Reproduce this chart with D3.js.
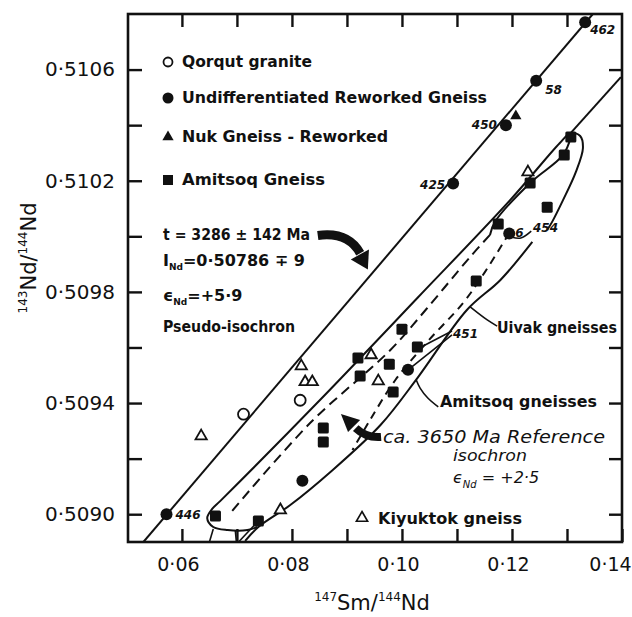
<!DOCTYPE html>
<html>
<head>
<meta charset="utf-8">
<script src="https://cdn.jsdelivr.net/npm/d3@7"></script>
<style>
  body { margin: 0; background: #fff; }
  svg text { font-family: "DejaVu Sans", sans-serif; fill: #111; }
</style>
</head>
<body>
<div id="graph"></div>
<script>
// ---- data ----
const xTicks = [0.06, 0.07, 0.08, 0.09, 0.10, 0.11, 0.12, 0.13];
const xLabels = [0.06, 0.08, 0.10, 0.12, 0.14];
const yTicks = [0.5090, 0.5092, 0.5094, 0.5096, 0.5098, 0.5100, 0.5102, 0.5104, 0.5106];
const yLabels = [0.5090, 0.5094, 0.5098, 0.5102, 0.5106];

// open circles
const qorqut = [[0.0712, 0.50936], [0.0815, 0.50941]];
// filled circles, with sample numbers
const undiff = [[0.0572, 0.50900], [0.1333, 0.51077], [0.1244, 0.51056], [0.1189, 0.51040],
                [0.1093, 0.51019], [0.1195, 0.51001], [0.1011, 0.50952], [0.0819, 0.50912]];
const undiffIds = ["446", "462", "58", "450", "425", "6", "", ""];
// filled triangle
const nuk = [[0.1207, 0.510433]];
// filled squares
const amitsoq = [[0.1307, 0.510357], [0.1295, 0.510293], [0.1233, 0.510192], [0.1264, 0.510105],
                 [0.1175, 0.510044], [0.1135, 0.509839], [0.1000, 0.509666], [0.1028, 0.509602],
                 [0.0920, 0.509562], [0.0977, 0.509540], [0.0924, 0.509497], [0.0984, 0.509440],
                 [0.0857, 0.509310], [0.0857, 0.509260], [0.0739, 0.508976], [0.0661, 0.508994]];
// open triangles
const kiyuktok = [[0.0635, 0.509281], [0.0817, 0.509533], [0.0824, 0.509476], [0.0837, 0.509476],
                  [0.0779, 0.509015], [0.0944, 0.509573], [0.0957, 0.509479], [0.1229, 0.510231]];

// lines and fields
const pseudoIso = [[0.0530, 0.5089], [0.1347, 0.5108]];
const refIso = [[0.1398, 0.510573], [0.1307, 0.510372]];
const uivakField = [[0.0737, 0.508954], [0.0719, 0.508943], [0.0683, 0.508943], [0.0657, 0.508954],
                    [0.0646, 0.508986], [0.0655, 0.509019], [0.0670, 0.509048], [0.0851, 0.509411],
                    [0.1028, 0.509778], [0.1197, 0.510131], [0.1287, 0.510336], [0.1307, 0.510372],
                    [0.1324, 0.510361], [0.1329, 0.510318], [0.1316, 0.510231], [0.1293, 0.510131],
                    [0.1273, 0.510052], [0.1264, 0.510023]];
const innerSolid = [[0.1307, 0.510357], [0.1293, 0.510293], [0.1233, 0.510192], [0.1169, 0.510052], [0.1160, 0.510005]];
const innerDash = [[0.1160, 0.510005], [0.1124, 0.509926], [0.1046, 0.509742], [0.0979, 0.509591],
                   [0.0833, 0.509328], [0.0688, 0.509004]];
const amitsoqDash = [[0.1195, 0.510012], [0.1151, 0.509872], [0.1111, 0.509760], [0.1046, 0.509620],
                     [0.0988, 0.509483], [0.0942, 0.509339], [0.0910, 0.509231]];
const lowerLine = [[0.1237, 0.509980], [0.1179, 0.509843], [0.1118, 0.509735], [0.1028, 0.509490],
                   [0.0961, 0.509321], [0.0870, 0.509152], [0.0797, 0.509033], [0.0739, 0.508954],
                   [0.0715, 0.508904]];
const legs = [[[0.0657, 0.508947], [0.0650, 0.5089]], [[0.0697, 0.508943], [0.0699, 0.5089]],
              [[0.0739, 0.508976], [0.0703, 0.5089]]];

// leader lines
const leaders = [
  [[0.1173, 0.509677], [0.1155, 0.509699], [0.1124, 0.509746]],               // Uivak
  [[0.1066, 0.509386], [0.1047, 0.509418], [0.1033, 0.509454], [0.1026, 0.509483]], // Amitsoq
  [[0.1200, 0.509997], [0.1216, 0.509994], [0.1235, 0.510019]],               // 454
  [[0.1091, 0.509659], [0.1035, 0.509602]],                                   // 451
  [[0.1091, 0.509645], [0.1018, 0.509530]]
];

const width = 632, height = 617;

const svg = d3.select("#graph")
  .append("svg")
  .attr("width", width)
  .attr("height", height);

const x = d3.scaleLinear().domain([0.0502, 0.14]).range([128, 622]);
const y = d3.scaleLinear().domain([0.5089, 0.5108]).range([542, 14]);

const dot = s => s.replace(".", "\u00b7");

svg.append("defs").append("clipPath").attr("id", "plot")
  .append("rect")
  .attr("x", x(0.0502)).attr("y", y(0.5108))
  .attr("width", x(0.14) - x(0.0502)).attr("height", y(0.5089) - y(0.5108));

// ---- axes (ticks point inward) ----
const fx = d3.format(".2f"), fy = d3.format(".4f");

svg.append("g")
  .attr("transform", `translate(0,${y(0.5089)})`)
  .call(d3.axisBottom(x).tickValues(xTicks.concat([0.14])).tickSize(-13).tickPadding(16)
    .tickFormat(d => xLabels.some(v => Math.abs(v - d) < 1e-6) ? dot(fx(d)) : ""))
  .call(g => g.select(".domain").remove())
  .call(g => g.selectAll("text").attr("font-size", 19)
    .attr("dx", d => d > 0.135 ? -12 : -4));

svg.append("g")
  .attr("transform", `translate(0,${y(0.5108)})`)
  .call(d3.axisTop(x).tickValues(xTicks).tickSize(-13).tickFormat(""))
  .call(g => g.select(".domain").remove());

svg.append("g")
  .attr("transform", `translate(${x(0.0502)},0)`)
  .call(d3.axisLeft(y).tickValues(yTicks).tickSize(-14).tickPadding(13)
    .tickFormat(d => yLabels.some(v => Math.abs(v - d) < 1e-8) ? dot(fy(d)) : ""))
  .call(g => g.select(".domain").remove())
  .call(g => g.selectAll("text").attr("font-size", 20));

svg.append("g")
  .attr("transform", `translate(${x(0.14)},0)`)
  .call(d3.axisRight(y).tickValues(yTicks).tickSize(-13).tickFormat(""))
  .call(g => g.select(".domain").remove());

svg.selectAll(".tick line").attr("stroke", "#111").attr("stroke-width", 2.4);

svg.append("rect")
  .attr("x", x(0.0502)).attr("y", y(0.5108))
  .attr("width", x(0.14) - x(0.0502)).attr("height", y(0.5089) - y(0.5108))
  .attr("fill", "none").attr("stroke", "#111").attr("stroke-width", 2.6);

// axis titles
const xt = svg.append("text").attr("x", 372).attr("y", 610).attr("text-anchor", "middle").attr("font-size", 21);
xt.append("tspan").attr("font-size", 12).attr("dy", -9).text("147");
xt.append("tspan").attr("dy", 9).text("Sm/");
xt.append("tspan").attr("font-size", 12).attr("dy", -9).text("144");
xt.append("tspan").attr("dy", 9).text("Nd");

const yt = svg.append("text").attr("transform", "translate(36,258) rotate(-90)")
  .attr("text-anchor", "middle").attr("font-size", 21);
yt.append("tspan").attr("font-size", 12).attr("dy", -9).text("143");
yt.append("tspan").attr("dy", 9).text("Nd/");
yt.append("tspan").attr("font-size", 12).attr("dy", -9).text("144");
yt.append("tspan").attr("dy", 9).text("Nd");

// ---- lines ----
const plot = svg.append("g").attr("clip-path", "url(#plot)");
const straight = d3.line().x(d => x(d[0])).y(d => y(d[1]));
const smooth = d3.line().x(d => x(d[0])).y(d => y(d[1])).curve(d3.curveCatmullRom.alpha(0.5));

function draw(pts, gen, dash, w) {
  plot.append("path")
    .attr("d", gen(pts))
    .attr("fill", "none")
    .attr("stroke", "#111")
    .attr("stroke-width", w || 2)
    .attr("stroke-dasharray", dash || null)
    .attr("stroke-linejoin", "round");
}

draw(pseudoIso, straight);
draw(refIso, straight);
draw(uivakField, smooth);
draw(innerSolid, smooth);
draw(innerDash, smooth, "10,6");
draw(amitsoqDash, smooth, "8,6");
draw(lowerLine, smooth);
legs.forEach(l => draw(l, straight, null, 1.6));
leaders.forEach(l => draw(l, smooth, null, 1.6));

// thick curved arrows
function arrow(body, head, w) {
  plot.append("path")
    .attr("d", `M${x(body[0][0])},${y(body[0][1])}Q${x(body[1][0])},${y(body[1][1])} ${x(body[2][0])},${y(body[2][1])}`)
    .attr("fill", "none").attr("stroke", "#111").attr("stroke-width", w);
  plot.append("path")
    .attr("d", straight(head) + "Z")
    .attr("fill", "#111");
}
arrow([[0.0847, 0.510003], [0.0902, 0.510018], [0.0924, 0.509939]],
      [[0.0940, 0.509953], [0.0907, 0.509917], [0.0938, 0.509881]], 9);
arrow([[0.0962, 0.509278], [0.0935, 0.509274], [0.0916, 0.509310]],
      [[0.0889, 0.509361], [0.0924, 0.509339], [0.0902, 0.509296]], 8);

// ---- points ----
const tri = d3.symbol().type(d3.symbolTriangle).size(55);

plot.append("g").selectAll("circle")
  .data(qorqut).join("circle")
  .attr("cx", d => x(d[0])).attr("cy", d => y(d[1])).attr("r", 5.5)
  .attr("fill", "#fff").attr("stroke", "#111").attr("stroke-width", 1.8);

plot.append("g").selectAll("path")
  .data(kiyuktok).join("path")
  .attr("transform", d => `translate(${x(d[0])},${y(d[1])})`)
  .attr("d", tri).attr("fill", "#fff").attr("stroke", "#111").attr("stroke-width", 1.8);

plot.append("g").selectAll("rect")
  .data(amitsoq).join("rect")
  .attr("x", d => x(d[0]) - 5.5).attr("y", d => y(d[1]) - 5.5)
  .attr("width", 11).attr("height", 11).attr("rx", 1.5).attr("fill", "#111");

plot.append("g").selectAll("circle")
  .data(undiff).join("circle")
  .attr("cx", d => x(d[0])).attr("cy", d => y(d[1])).attr("r", 6).attr("fill", "#111");

plot.append("g").selectAll("path")
  .data(nuk).join("path")
  .attr("transform", d => `translate(${x(d[0])},${y(d[1])})`)
  .attr("d", tri).attr("fill", "#111");

// sample numbers
const idPos = { "446": [9, 5, "start"], "462": [5, 12, "start"], "58": [9, 13, "start"],
                "450": [-9, 4, "end"], "425": [-8, 5, "end"], "6": [6, 3, "start"] };
svg.append("g").selectAll("text")
  .data(undiff.map((d, i) => [d, undiffIds[i]]).filter(d => d[1]))
  .join("text")
  .attr("x", d => x(d[0][0]) + idPos[d[1]][0])
  .attr("y", d => y(d[0][1]) + idPos[d[1]][1])
  .attr("text-anchor", d => idPos[d[1]][2])
  .attr("font-size", 12).attr("font-weight", "bold").attr("font-style", "italic")
  .text(d => d[1]);

function note(tx, ty, str, opt = {}) {
  return svg.append("text").attr("x", tx).attr("y", ty)
    .attr("font-size", opt.size || 15)
    .attr("font-weight", opt.weight || "bold")
    .attr("font-style", opt.italic ? "italic" : null)
    .attr("textLength", opt.len || null)
    .attr("lengthAdjust", "spacingAndGlyphs")
    .text(str);
}
note(533, 232, "454", { size: 12, italic: true });
note(453, 338, "451", { size: 12, italic: true });

// ---- legend ----
const lg = svg.append("g");
lg.append("circle").attr("cx", 168).attr("cy", 62).attr("r", 4.5)
  .attr("fill", "#fff").attr("stroke", "#111").attr("stroke-width", 1.8);
lg.append("circle").attr("cx", 168).attr("cy", 98).attr("r", 5.5).attr("fill", "#111");
lg.append("path").attr("transform", "translate(168,137)").attr("d", tri).attr("fill", "#111");
lg.append("rect").attr("x", 163).attr("y", 175).attr("width", 10).attr("height", 10).attr("fill", "#111");

note(182, 67, "Qorqut  granite", { len: 130 });
note(182, 103, "Undifferentiated  Reworked  Gneiss", { len: 305 });
note(182, 142, "Nuk  Gneiss - Reworked", { len: 206 });
note(182, 185, "Amitsoq  Gneiss", { len: 143 });

// isochron statistics
note(163, 240, "t = 3286 \u00b1 142 Ma", { len: 147, size: 16 });
const iN = note(163, 266, "", { size: 16 });
iN.append("tspan").text("I");
iN.append("tspan").attr("font-size", 9).attr("dy", 4).text("Nd");
iN.append("tspan").attr("dy", -4).text("=0\u00b750786 \u2213 9");
const eN = note(163, 301, "", { size: 16 });
eN.append("tspan").text("\u03f5");
eN.append("tspan").attr("font-size", 9).attr("dy", 4).text("Nd");
eN.append("tspan").attr("dy", -4).text("=+5\u00b79");
note(163, 332, "Pseudo-isochron", { len: 132 });

// field and isochron annotations
note(497, 333, "Uivak gneisses", { len: 120 });
note(440, 407, "Amitsoq  gneisses", { len: 157 });
note(383, 443, "ca. 3650 Ma Reference", { len: 222, italic: true, weight: "normal", size: 17 });
note(453, 461, "isochron", { len: 74, italic: true, weight: "normal", size: 15 });
const eR = note(453, 483, "", { italic: true, weight: "normal", size: 16 });
eR.append("tspan").text("\u03f5");
eR.append("tspan").attr("font-size", 10).attr("dy", 5).text("Nd");
eR.append("tspan").attr("dy", -5).text(" = +2\u00b75");

lg.append("path").attr("transform", "translate(362,518)").attr("d", tri)
  .attr("fill", "#fff").attr("stroke", "#111").attr("stroke-width", 1.6);
note(378, 524, "Kiyuktok  gneiss", { len: 144 });
</script>
</body>
</html>
